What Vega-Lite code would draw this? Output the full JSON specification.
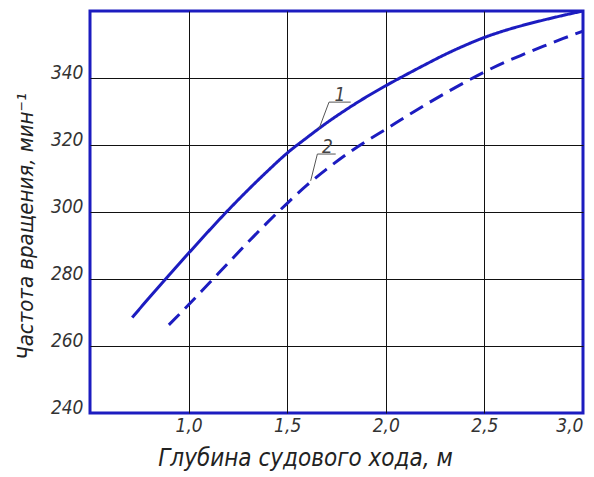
{
  "$schema": "https://vega.github.io/schema/vega-lite/v6.json",
  "width": 493,
  "height": 402,
  "autosize": {"type": "none"},
  "padding": {"left": 90, "top": 11, "right": 11, "bottom": 64},
  "config": {
    "view": {"stroke": "#1c1cc0", "strokeWidth": 3},
    "axis": {
      "labelFont": "DejaVu Sans Condensed, sans-serif",
      "labelFontStyle": "italic",
      "labelFontSize": 19,
      "labelColor": "#333333",
      "titleFont": "DejaVu Sans Condensed, sans-serif",
      "titleFontStyle": "italic",
      "titleFontWeight": "normal",
      "titleFontSize": 24,
      "titleColor": "#222222",
      "ticks": false,
      "domain": false,
      "gridWidth": 1
    }
  },
  "datasets": {
    "curves": [
      {"depth": 0.714, "freq": 268.5, "series": "1"},
      {"depth": 0.8, "freq": 274.4, "series": "1"},
      {"depth": 0.9, "freq": 281.1, "series": "1"},
      {"depth": 1.0, "freq": 287.7, "series": "1"},
      {"depth": 1.1, "freq": 294.2, "series": "1"},
      {"depth": 1.2, "freq": 300.5, "series": "1"},
      {"depth": 1.3, "freq": 306.5, "series": "1"},
      {"depth": 1.4, "freq": 312.2, "series": "1"},
      {"depth": 1.5, "freq": 317.6, "series": "1"},
      {"depth": 1.6, "freq": 322.2, "series": "1"},
      {"depth": 1.7, "freq": 326.6, "series": "1"},
      {"depth": 1.8, "freq": 330.6, "series": "1"},
      {"depth": 1.9, "freq": 334.3, "series": "1"},
      {"depth": 2.0, "freq": 337.7, "series": "1"},
      {"depth": 2.1, "freq": 340.9, "series": "1"},
      {"depth": 2.2, "freq": 344.0, "series": "1"},
      {"depth": 2.3, "freq": 347.0, "series": "1"},
      {"depth": 2.4, "freq": 349.7, "series": "1"},
      {"depth": 2.5, "freq": 352.1, "series": "1"},
      {"depth": 2.6, "freq": 354.1, "series": "1"},
      {"depth": 2.7, "freq": 355.8, "series": "1"},
      {"depth": 2.8, "freq": 357.3, "series": "1"},
      {"depth": 2.9, "freq": 358.7, "series": "1"},
      {"depth": 3.0, "freq": 360.0, "series": "1"},
      {"depth": 0.9, "freq": 266.3, "series": "2"},
      {"depth": 1.0, "freq": 272.3, "series": "2"},
      {"depth": 1.1, "freq": 278.5, "series": "2"},
      {"depth": 1.2, "freq": 284.7, "series": "2"},
      {"depth": 1.3, "freq": 290.9, "series": "2"},
      {"depth": 1.4, "freq": 296.9, "series": "2"},
      {"depth": 1.5, "freq": 302.6, "series": "2"},
      {"depth": 1.6, "freq": 308.0, "series": "2"},
      {"depth": 1.7, "freq": 312.8, "series": "2"},
      {"depth": 1.8, "freq": 317.2, "series": "2"},
      {"depth": 1.9, "freq": 321.1, "series": "2"},
      {"depth": 2.0, "freq": 324.7, "series": "2"},
      {"depth": 2.1, "freq": 328.4, "series": "2"},
      {"depth": 2.2, "freq": 332.0, "series": "2"},
      {"depth": 2.3, "freq": 335.4, "series": "2"},
      {"depth": 2.4, "freq": 338.7, "series": "2"},
      {"depth": 2.5, "freq": 341.8, "series": "2"},
      {"depth": 2.6, "freq": 344.6, "series": "2"},
      {"depth": 2.7, "freq": 347.1, "series": "2"},
      {"depth": 2.8, "freq": 349.5, "series": "2"},
      {"depth": 2.9, "freq": 351.8, "series": "2"},
      {"depth": 3.0, "freq": 354.0, "series": "2"}
    ],
    "leaders": [
      {"x1": 1.661, "y1": 324.8, "x2": 1.712, "y2": 332.8},
      {"x1": 1.712, "y1": 332.8, "x2": 1.822, "y2": 332.8},
      {"x1": 1.619, "y1": 309.3, "x2": 1.653, "y2": 317.3},
      {"x1": 1.653, "y1": 317.3, "x2": 1.746, "y2": 317.3}
    ],
    "labels": [
      {"x": 1.768, "y": 332.8, "label": "1"},
      {"x": 1.704, "y": 317.3, "label": "2"}
    ]
  },
  "layer": [
    {
      "data": {"name": "curves"},
      "mark": {"type": "line", "interpolate": "monotone", "strokeWidth": 3, "color": "#1c1cc0", "clip": true},
      "encoding": {
        "x": {
          "field": "depth",
          "type": "quantitative",
          "scale": {"domain": [0.5, 3.0], "nice": false, "zero": false},
          "axis": {
            "values": [1, 1.5, 2, 2.5, 3],
            "labelExpr": "replace(format(datum.value, '.1f'), '.', ',')",
            "labelBaseline": "top",
            "labelPadding": 3,
            "labelFlush": true,
            "grid": true,
            "gridColor": {"condition": {"test": "datum.value >= 3", "value": "transparent"}, "value": "#111111"},
            "title": "Глубина судового хода, м",
            "titleX": 215,
            "titleY": 52,
            "titleBaseline": "alphabetic"
          }
        },
        "y": {
          "field": "freq",
          "type": "quantitative",
          "scale": {"domain": [240, 360], "nice": false, "zero": false},
          "axis": {
            "values": [240, 260, 280, 300, 320, 340],
            "labelBaseline": "alphabetic",
            "labelPadding": 7,
            "grid": true,
            "gridColor": {"condition": {"test": "datum.value <= 240", "value": "transparent"}, "value": "#111111"},
            "title": "Частота вращения, мин⁻¹",
            "titleFontSize": 22,
            "titleX": -65,
            "titleY": 215,
            "titleBaseline": "middle"
          }
        },
        "strokeDash": {
          "field": "series",
          "type": "nominal",
          "scale": {"domain": ["1", "2"], "range": [[1, 0], [15, 8]]},
          "legend": null
        }
      }
    },
    {
      "data": {"name": "leaders"},
      "mark": {"type": "rule", "color": "#555555", "strokeWidth": 1},
      "encoding": {
        "x": {"field": "x1", "type": "quantitative"},
        "y": {"field": "y1", "type": "quantitative"},
        "x2": {"field": "x2"},
        "y2": {"field": "y2"}
      }
    },
    {
      "data": {"name": "labels"},
      "mark": {"type": "text", "font": "DejaVu Sans Condensed, sans-serif", "fontStyle": "italic", "fontSize": 19, "color": "#444444", "baseline": "alphabetic", "dy": -1},
      "encoding": {
        "x": {"field": "x", "type": "quantitative"},
        "y": {"field": "y", "type": "quantitative"},
        "text": {"field": "label"}
      }
    }
  ]
}
